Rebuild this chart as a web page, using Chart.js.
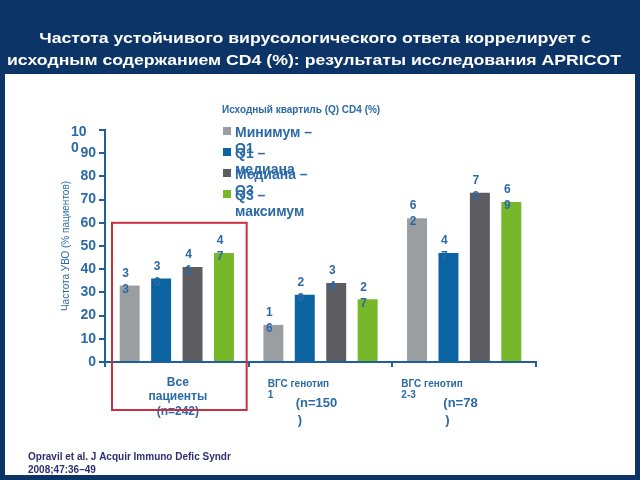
<!DOCTYPE html>
<html><head><meta charset="utf-8">
<script src="https://cdn.jsdelivr.net/npm/chart.js@4/dist/chart.umd.min.js"></script>
<style>html,body{margin:0;padding:0;background:#0c3466;}#wrap{width:640px;height:480px;position:relative;}</style>
</head><body><div id="wrap"><canvas id="c" width="640" height="480"></canvas></div>
<script>
const TITLE_LINES = ['Частота устойчивого вирусологического ответа коррелирует с', 'исходным содержанием CD4 (%): результаты исследования APRICOT'];
const CATEGORIES = ['Все пациенты', 'ВГС генотип 1', 'ВГС генотип 2-3'];
const CATEGORY_N = ['(n=242)', '(n=150)', '(n=78)'];
const SERIES_LABELS = ['Минимум – Q1', 'Q1 – медиана', 'Медиана – Q3', 'Q3 – максимум'];
const MIN_Q1 = [33, 16, 62];
const Q1_MEDIAN = [36, 29, 47];
const MEDIAN_Q3 = [41, 34, 73];
const Q3_MAX = [47, 27, 69];
const Y_TICKS = [0, 10, 20, 30, 40, 50, 60, 70, 80, 90, 100];
const LEGEND_TITLE = 'Исходный квартиль (Q) CD4 (%)';
const Y_TITLE = 'Частота УВО (% пациентов)';
const FOOTNOTE = ['Opravil et al. J Acquir Immuno Defic Syndr', '2008;47:36–49'];

const COLORS = ['#9b9ea1', '#0b64a1', '#5b5d60', '#77b82a'];
const TXT = '#2b6aa7';
const AXIS = '#1f5f9b';
const FONT = '"Liberation Sans", Arial, sans-serif';

const bgPlugin = {
  id: 'bg',
  beforeDraw(chart) {
    const ctx = chart.ctx;
    ctx.save();
    ctx.fillStyle = '#0c3466';
    ctx.fillRect(0, 0, 640, 480);
    ctx.fillStyle = '#ffffff';
    ctx.fillRect(5, 74, 630, 401);
    ctx.fillStyle = '#ffffff';
    ctx.font = 'bold 15px ' + FONT;
    ctx.textAlign = 'center';
    ctx.textBaseline = 'middle';
    const sx = 614 / ctx.measureText(TITLE_LINES[1]).width;
    ctx.translate(314, 0);
    ctx.scale(sx, 1);
    ctx.fillText(TITLE_LINES[0], 1 / sx, 39);
    ctx.fillText(TITLE_LINES[1], 0, 61);
    ctx.restore();
  }
};

const decoPlugin = {
  id: 'deco',
  afterDraw(chart) {
    const ctx = chart.ctx;
    const x = chart.scales.x, y = chart.scales.y;
    const ca = chart.chartArea;
    ctx.save();
    // data labels (digits stacked)
    ctx.font = 'bold 12px ' + FONT;
    ctx.fillStyle = TXT;
    ctx.textAlign = 'center';
    ctx.textBaseline = 'middle';
    chart.data.datasets.forEach((ds, di) => {
      const meta = chart.getDatasetMeta(di);
      meta.data.forEach((el, i) => {
        const digits = String(ds.data[i]).split('');
        ctx.fillText(digits[0], el.x - 4, el.y - 12);
        if (digits[1]) ctx.fillText(digits[1], el.x - 4, el.y + 4);
      });
    });
    // "100" tick label wrapped
    const p100 = y.getPixelForValue(100);
    ctx.font = 'bold 14px ' + FONT;
    ctx.textAlign = 'left';
    ctx.fillText('10', ca.left - 34, p100 + 2);
    ctx.fillText('0', ca.left - 34, p100 + 18);
    // y title
    ctx.save();
    ctx.translate(ca.left - 39, (ca.top + ca.bottom) / 2);
    ctx.rotate(-Math.PI / 2);
    ctx.font = '10px ' + FONT;
    ctx.textAlign = 'center';
    ctx.fillText(Y_TITLE, 0, 0);
    ctx.restore();
    // legend
    ctx.font = 'bold 10px ' + FONT;
    ctx.textAlign = 'left';
    ctx.fillText(LEGEND_TITLE, ca.left + 117, ca.top - 20);
    chart.data.datasets.forEach((ds, di) => {
      const y0 = ca.top + 3 + 21 * di;
      ctx.fillStyle = ds.backgroundColor;
      ctx.fillRect(ca.left + 118, y0 - 6, 8, 8);
      ctx.fillStyle = TXT;
      ctx.font = 'bold 14px ' + FONT;
      const parts = ds.label.split(' – ');
      ctx.fillText(parts[0] + ' –', ca.left + 130, y0);
      ctx.fillText(parts[1], ca.left + 130, y0 + 16);
    });
    // category labels
    const bottom = ca.bottom;
    const c0 = x.getPixelForValue(0);
    const w = x.getPixelForValue(1) - c0;
    ctx.fillStyle = TXT;
    ctx.textAlign = 'center';
    ctx.font = 'bold 12px ' + FONT;
    const g1 = CATEGORIES[0].split(' ');
    ctx.fillText(g1[0], c0 + 1, bottom + 21);
    ctx.fillText(g1[1], c0 + 1, bottom + 35);
    ctx.fillText(CATEGORY_N[0], c0 + 1, bottom + 50);
    for (let i = 1; i < 3; i++) {
      const left = x.getPixelForValue(i) - w / 2;
      const off = i === 1 ? 19 : 9;
      const nOff = i === 1 ? 47 : 51;
      const parts = CATEGORIES[i].split(' ');
      ctx.textAlign = 'left';
      ctx.font = 'bold 10px ' + FONT;
      ctx.fillText(parts[0] + ' ' + parts[1], left + off, bottom + 22);
      ctx.fillText(parts[2], left + off, bottom + 33);
      ctx.font = 'bold 13px ' + FONT;
      const n = CATEGORY_N[i];
      ctx.fillText(n.slice(0, -1), left + nOff, bottom + 41);
      ctx.fillText(n.slice(-1), left + nOff + 2, bottom + 58);
    }
    // red highlight box
    ctx.strokeStyle = '#c82f40';
    ctx.lineWidth = 2;
    ctx.strokeRect(c0 - w / 2 + 7, y.getPixelForValue(60), w - 9, bottom + 48 - y.getPixelForValue(60));
    // footnote
    ctx.fillStyle = '#2e2f72';
    ctx.font = 'bold 10px ' + FONT;
    ctx.textAlign = 'left';
    ctx.fillText(FOOTNOTE[0], 28, 457);
    ctx.fillText(FOOTNOTE[1], 28, 470);
    ctx.restore();
  }
};

const datasets = [MIN_Q1, Q1_MEDIAN, MEDIAN_Q3, Q3_MAX].map((d, i) => ({
  label: SERIES_LABELS[i],
  data: d,
  backgroundColor: COLORS[i],
  categoryPercentage: 0.875,
  barPercentage: 0.635
}));

new Chart(document.getElementById('c'), {
  type: 'bar',
  data: { labels: CATEGORIES, datasets },
  plugins: [bgPlugin, decoPlugin],
  options: {
    responsive: false,
    animation: false,
    layout: { padding: { left: 59, right: 104, top: 130, bottom: 108 } },
    plugins: { legend: { display: false }, tooltip: { enabled: false }, title: { display: false } },
    scales: {
      x: {
        ticks: { display: false },
        grid: { drawOnChartArea: false, drawTicks: true, tickLength: 5, color: AXIS, lineWidth: 2 },
        border: { color: AXIS, width: 2 },
        afterFit(s) { s.height = 10; }
      },
      y: {
        min: 0, max: 100,
        afterBuildTicks(s) { s.ticks = Y_TICKS.map(v => ({ value: v })); },
        ticks: {
          color: TXT, font: { family: FONT, size: 14, weight: 'bold' }, padding: 3,
          callback: v => (v === 100 ? '' : String(v))
        },
        grid: { drawOnChartArea: false, drawTicks: true, tickLength: 6, color: AXIS, lineWidth: 2 },
        border: { color: AXIS, width: 2 },
        afterFit(s) { s.width = 46; }
      }
    }
  }
});
</script></body></html>
